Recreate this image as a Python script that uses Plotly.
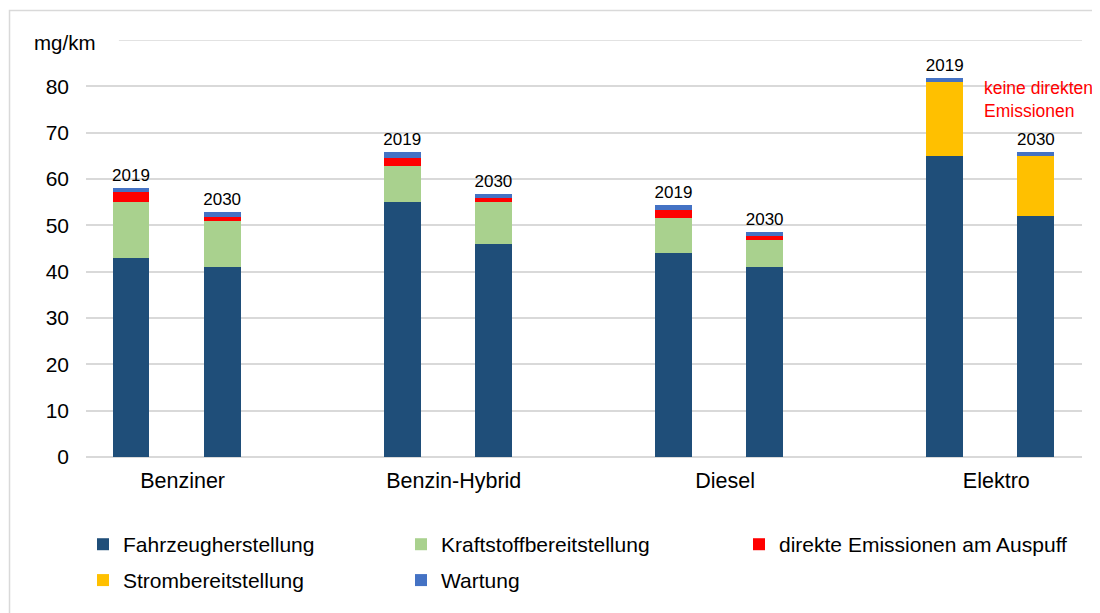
import numpy as np
import plotly.graph_objects as go

# Data (mg/km)
categories = ["Benziner", "Benzin-Hybrid", "Diesel", "Elektro"]
years = ["2019", "2030"]

fahrzeug = [43, 41, 55, 46, 44, 41, 65, 52]
kraftstoff = [12, 10, 7.8, 9, 7.6, 5.8, 0, 0]
direkt = [2.2, 0.9, 1.7, 0.9, 1.7, 0.8, 0, 0]
strom = [0, 0, 0, 0, 0, 0, 16, 13]
wartung = [0.8, 1.0, 1.3, 0.9, 1.1, 0.9, 0.8, 0.8]

# name, values, colour, legend row, legend entry width
series = [
    ("Fahrzeugherstellung", fahrzeug, "#1F4E79", "legend", 273),
    ("Kraftstoffbereitstellung", kraftstoff, "#A9D18E", "legend", 293),
    ("direkte Emissionen am Auspuff", direkt, "#FF0000", "legend", 300),
    ("Strombereitstellung", strom, "#FFC000", "legend2", 273),
    ("Wartung", wartung, "#4472C4", "legend2", 293),
]

FONT = "Liberation Sans"

# bar positions: two bars (2019, 2030) per category group
group_pos = np.arange(len(categories))
year_offset = [-0.168, 0.168]
x_pos = [g + o for g in group_pos for o in year_offset]
bar_labels = [y for _ in categories for y in years]

fig = go.Figure()
for name, vals, color, leg, lw in series:
    is_top = name == "Wartung"
    fig.add_trace(go.Bar(
        x=x_pos, y=vals, name=name, width=0.136,
        marker=dict(color=color, line=dict(width=0)),
        legend=leg, legendwidth=lw,
        text=bar_labels if is_top else None,
        textposition="outside" if is_top else "none",
        textfont=dict(family=FONT, size=17, color="black"),
        constraintext="none",
        cliponaxis=False,
    ))

# page body has an 8px margin, so the figure is a bit smaller than the window
fig.update_layout(
    barmode="stack",
    width=1092, height=605,
    margin=dict(l=78, r=18, t=32, b=147),
    plot_bgcolor="white", paper_bgcolor="white",
    font=dict(family=FONT, size=21, color="black"),
    showlegend=True,
    legend=dict(orientation="h", x=-0.003, y=-0.21, xanchor="left", yanchor="middle",
                font=dict(size=21), traceorder="normal"),
    legend2=dict(orientation="h", x=-0.003, y=-0.296, xanchor="left", yanchor="middle",
                 font=dict(size=21), traceorder="normal"),
)

fig.update_xaxes(
    range=[-0.334, 3.338],
    tickvals=group_pos + 0.022, ticktext=categories,
    showgrid=False, zeroline=False, showline=False, ticks="",
    tickfont=dict(size=21.5), ticklabelstandoff=8,
)
fig.update_yaxes(
    range=[0, 90], tickvals=list(range(0, 90, 10)),
    showgrid=True, gridcolor="#D9D9D9", gridwidth=1.5,
    zeroline=True, zerolinecolor="#D9D9D9", zerolinewidth=1.5,
    showline=False, ticks="", tickfont=dict(size=21), ticklabelstandoff=16,
)

# top gridline at 90 (shorter, beside the unit label)
fig.add_shape(type="line", xref="paper", yref="y", x0=0.033, x1=1.0, y0=90, y1=90,
              line=dict(color="#D9D9D9", width=1.5))
# outer frame
fig.add_shape(type="rect", xref="paper", yref="paper", x0=-0.0768, x1=1.1, y0=-0.6, y1=1.0706,
              line=dict(color="#D9D9D9", width=1.5), layer="below")

fig.add_annotation(text="mg/km", xref="paper", yref="y", x=-0.0206, y=89.4,
                   xanchor="center", yanchor="middle", showarrow=False,
                   font=dict(size=20.5))
fig.add_annotation(text="keine direkten<br>Emissionen", xref="paper", yref="y",
                   x=0.9, y=77.1, xanchor="left", yanchor="middle", align="left",
                   showarrow=False, font=dict(size=17.5, color="#FF0000"))

fig.write_html("out.html")
